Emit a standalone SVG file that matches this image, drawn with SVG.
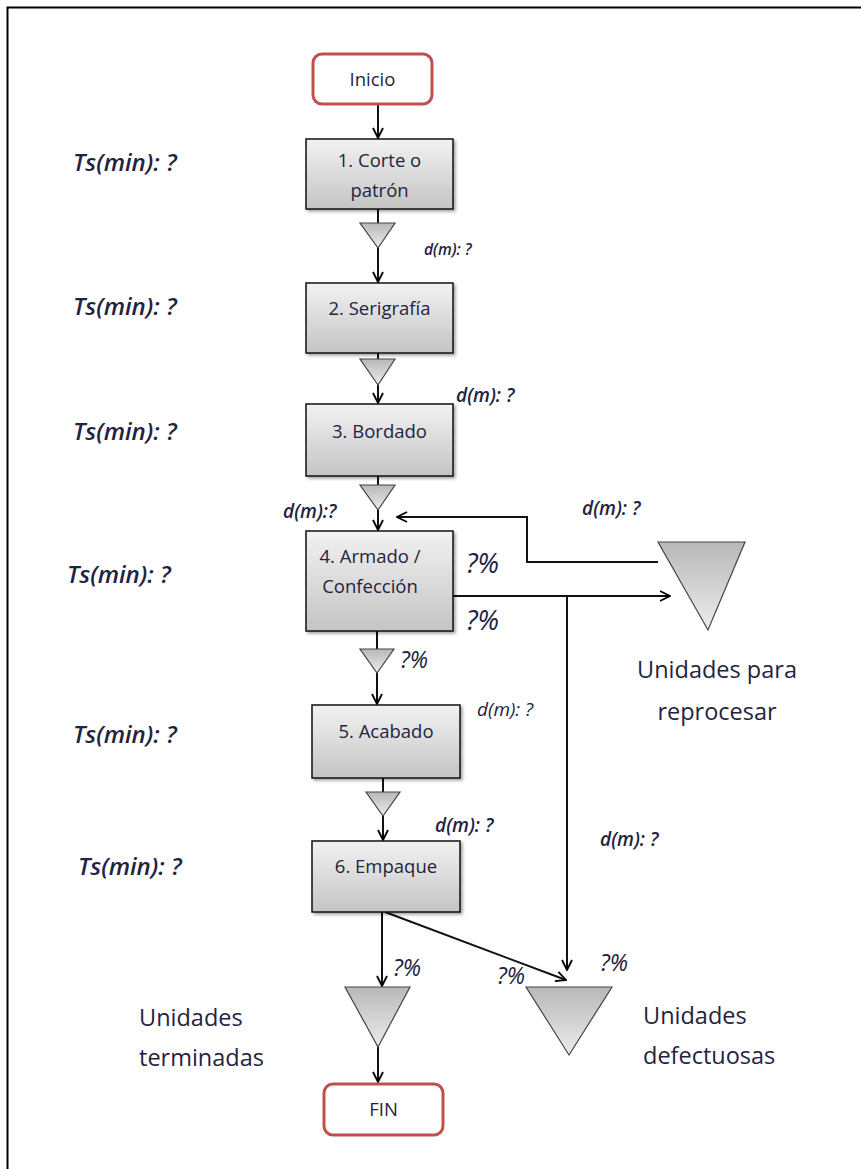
<svg xmlns="http://www.w3.org/2000/svg" width="861" height="1169" viewBox="0 0 861 1169">
  <defs>
    <linearGradient id="gBox" x1="0" y1="0" x2="0" y2="1">
      <stop offset="0" stop-color="#f2f2f2"/>
      <stop offset="1" stop-color="#c4c4c4"/>
    </linearGradient>
    <linearGradient id="gTri" x1="0" y1="0" x2="0" y2="1">
      <stop offset="0" stop-color="#b8b8b8"/>
      <stop offset="1" stop-color="#ececec"/>
    </linearGradient>
    <filter id="shadow" x="-10%" y="-10%" width="130%" height="130%">
      <feDropShadow dx="2" dy="2" stdDeviation="1.5" flood-color="#000" flood-opacity="0.35"/>
    </filter>
    <marker id="arrow" viewBox="0 0 12 12" refX="11" refY="6" markerWidth="12" markerHeight="12" markerUnits="userSpaceOnUse" orient="auto">
      <path d="M1,1 L11,6 L1,11" fill="none" stroke="#000" stroke-width="1.8"/>
    </marker>
    <style>
      .box { fill: url(#gBox); stroke: #111; stroke-width: 1.5; filter: url(#shadow); }
      .term { fill: #fff; stroke: #c0504d; stroke-width: 3; }
      .tri { fill: url(#gTri); stroke: #444; stroke-width: 1.2; }
      .con { fill: none; stroke: #111; stroke-width: 2; }
      .conA { fill: none; stroke: #111; stroke-width: 2; marker-end: url(#arrow); }
      .t { font-family: "Open Sans", "Liberation Sans", sans-serif; fill: #1f2440; }
      .node { font-size: 18.5px; text-anchor: middle; }
      .endt { font-size: 18.5px; text-anchor: middle; }
      .ts { font-size: 24px; font-style: italic; font-weight: 600; }
      .dm { font-style: italic; font-weight: 600; font-size: 19px; }
      .dms { font-style: italic; font-weight: 600; font-size: 15.5px; }
      .pct { font-size: 27px; font-style: italic; }
      .pcs { font-size: 23px; font-style: italic; }
      .lbl { font-size: 23.5px; }
    </style>
  </defs>

  <!-- frame -->
  <rect x="7.5" y="7.5" width="900" height="1200" fill="#fff" stroke="#000" stroke-width="2"/>

  <!-- connectors -->
  <g id="connectors">
    <line class="conA" x1="378" y1="105" x2="378" y2="138"/>
    <line class="con" x1="378" y1="209" x2="378" y2="223"/>
    <line class="conA" x1="378" y1="248" x2="378" y2="282"/>
    <line class="con" x1="378" y1="353" x2="378" y2="359"/>
    <line class="conA" x1="378" y1="385" x2="378" y2="403"/>
    <line class="con" x1="378" y1="476" x2="378" y2="485"/>
    <line class="conA" x1="378" y1="510" x2="378" y2="530"/>
    <polyline class="conA" points="658,562 527,562 527,517 397,517"/>
    <line class="conA" x1="453" y1="596" x2="670" y2="596"/>
    <polyline class="conA" points="567,596 567,970"/>
    <line class="con" x1="377" y1="631" x2="377" y2="649"/>
    <line class="conA" x1="377" y1="673" x2="377" y2="704"/>
    <line class="con" x1="383" y1="778" x2="383" y2="792"/>
    <line class="conA" x1="383" y1="816" x2="383" y2="840"/>
    <line class="conA" x1="382" y1="912" x2="382" y2="986"/>
    <line class="conA" x1="385" y1="912" x2="566" y2="980"/>
    <line class="conA" x1="378" y1="1047" x2="378" y2="1082"/>
  </g>

  <!-- terminals -->
  <g id="inicio">
    <rect class="term" x="313" y="54" width="119" height="50" rx="9"/>
    <text class="t endt" x="372.5" y="86">Inicio</text>
  </g>
  <g id="fin">
    <rect class="term" x="324" y="1084" width="119" height="51" rx="9"/>
    <text class="t endt" x="383.5" y="1116">FIN</text>
  </g>

  <!-- process steps -->
  <g id="corte">
    <rect class="box" x="306" y="139" width="147" height="70"/>
    <text class="t node" x="379.5" y="167">1. Corte o</text>
    <text class="t node" x="379.5" y="197">patrón</text>
  </g>
  <g id="serigrafia">
    <rect class="box" x="306" y="283" width="147" height="70"/>
    <text class="t node" x="379.5" y="315">2. Serigrafía</text>
  </g>
  <g id="bordado">
    <rect class="box" x="306" y="404" width="147" height="72"/>
    <text class="t node" x="379.5" y="438">3. Bordado</text>
  </g>
  <g id="armado">
    <rect class="box" x="306" y="531" width="147" height="100"/>
    <text class="t node" x="370" y="563">4. Armado /</text>
    <text class="t node" x="370" y="593">Confección</text>
  </g>
  <g id="acabado">
    <rect class="box" x="312" y="705" width="148" height="73"/>
    <text class="t node" x="386" y="738">5. Acabado</text>
  </g>
  <g id="empaque">
    <rect class="box" x="312" y="841" width="148" height="71"/>
    <text class="t node" x="386" y="873">6. Empaque</text>
  </g>

  <!-- storage / wait triangles -->
  <g id="espera1"><polygon class="tri" points="360,223 395,223 378,248"/></g>
  <g id="espera2"><polygon class="tri" points="360,359 395,359 378,385"/></g>
  <g id="espera3"><polygon class="tri" points="360,485 395,485 378,510"/></g>
  <g id="espera4"><polygon class="tri" points="360,649 394,649 377,673"/></g>
  <g id="espera5"><polygon class="tri" points="366,792 400,792 383,816"/></g>
  <g id="reproceso">
    <polygon class="tri" points="658,542 745,542 708,630"/>
    <text class="t lbl" x="717" y="678" text-anchor="middle">Unidades para</text>
    <text class="t lbl" x="717" y="720" text-anchor="middle">reprocesar</text>
  </g>
  <g id="terminadas">
    <polygon class="tri" points="345,987 410,987 378,1047"/>
    <text class="t lbl" x="139" y="1026">Unidades</text>
    <text class="t lbl" x="139" y="1066">terminadas</text>
  </g>
  <g id="defectuosas">
    <polygon class="tri" points="526,987 612,987 569,1055"/>
    <text class="t lbl" x="643" y="1024">Unidades</text>
    <text class="t lbl" x="643" y="1064">defectuosas</text>
  </g>

  <!-- time and distance annotations -->
  <g id="anotaciones">
    <text class="t ts" x="73" y="171">Ts(min): ?</text>
    <text class="t ts" x="73" y="315">Ts(min): ?</text>
    <text class="t ts" x="73" y="440">Ts(min): ?</text>
    <text class="t ts" x="67" y="583">Ts(min): ?</text>
    <text class="t ts" x="73" y="743">Ts(min): ?</text>
    <text class="t ts" x="78" y="875">Ts(min): ?</text>

    <text class="t dms" x="424" y="255">d(m): ?</text>
    <text class="t dm" x="456" y="402">d(m): ?</text>
    <text class="t dm" x="283" y="518">d(m):?</text>
    <text class="t dm" x="582" y="515">d(m): ?</text>
    <text class="t dm" x="477" y="716" style="font-weight:normal">d(m): ?</text>
    <text class="t dm" x="435" y="832">d(m): ?</text>
    <text class="t dm" x="600" y="846">d(m): ?</text>

    <text class="t pct" x="466" y="573">?%</text>
    <text class="t pct" x="466" y="630">?%</text>
    <text class="t pcs" x="400" y="668">?%</text>
    <text class="t pcs" x="393" y="976">?%</text>
    <text class="t pcs" x="497" y="984">?%</text>
    <text class="t pcs" x="600" y="971">?%</text>
  </g>
</svg>
